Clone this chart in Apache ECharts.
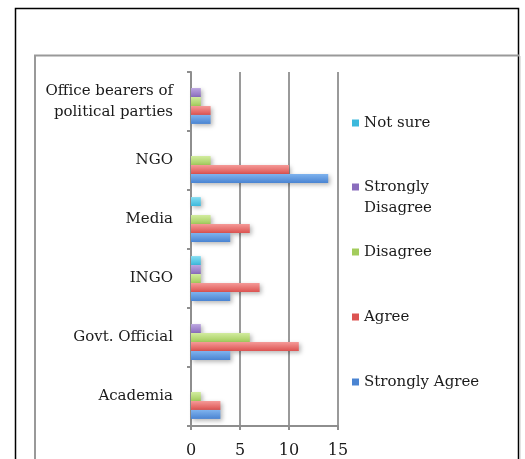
<!DOCTYPE html>
<html>
<head>
<meta charset="utf-8">
<script src="https://cdn.jsdelivr.net/npm/echarts@6/dist/echarts.min.js"></script>
<style>
  html, body { margin: 0; padding: 0; background: #fff; }
  #chart { width: 525px; height: 459px; }
</style>
</head>
<body>
<div id="chart"></div>
<script>
var categories = ['Academia', 'Govt. Official', 'INGO', 'Media', 'NGO', 'Office bearers of\npolitical parties'];
var stronglyAgree    = [3, 4, 4, 4, 14, 2];
var agree            = [3, 11, 7, 6, 10, 2];
var disagree         = [1, 6, 1, 2, 2, 1];
var stronglyDisagree = [0, 1, 1, 0, 0, 1];
var notSure          = [0, 0, 1, 1, 0, 0];
var xTicks = [0, 5, 10, 15];

var chart = echarts.init(document.getElementById('chart'));
var serif = 'DejaVu Serif';

// light / dark pair for the glossy bar look
var palette = {
    'Strongly Agree':    ['#7fb3ee', '#4a84d2'],
    'Agree':             ['#f59a98', '#dc5351'],
    'Disagree':          ['#d2ec9f', '#a3cc5c'],
    'Strongly Disagree': ['#bca6e0', '#8a6dbd'],
    'Not sure':          ['#86def2', '#3cb9dc']
};

var makeSeries = function (name, values) {
    var c = palette[name];
    return {
        name: name,
        type: 'bar',
        data: values,
        barGap: '0%',
        barCategoryGap: '24%',
        itemStyle: {
            color: new echarts.graphic.LinearGradient(0, 0, 0, 1, [
                {offset: 0, color: c[0]},
                {offset: 1, color: c[1]}
            ]),
            shadowColor: 'rgba(0,0,0,0.28)',
            shadowBlur: 4,
            shadowOffsetX: 2,
            shadowOffsetY: 2
        },
        emphasis: {disabled: true}
    };
};

var legendItem = function (name, top, formatter) {
    var l = {
        data: [{name: name, icon: 'rect', itemStyle: {color: palette[name][1]}}],
        orient: 'vertical',
        left: 352,
        top: top,
        padding: 0,
        itemWidth: 7,
        itemHeight: 7,
        selectedMode: false,
        textStyle: {fontFamily: serif, fontSize: 15, color: '#1a1a1a', lineHeight: 21}
    };
    if (formatter) l.formatter = formatter;
    return l;
};

var option = {
    backgroundColor: '#fff',
    animation: false,
    graphic: [
        {type: 'rect', z: -10, silent: true,
         shape: {x: 15.5, y: 8.5, width: 503, height: 520},
         style: {fill: '#fff', stroke: '#000', lineWidth: 1.5}},
        {type: 'polyline', z: -9, silent: true,
         shape: {points: [[35, 480], [35, 55.5], [519, 55.5]]},
         style: {fill: null, stroke: '#999', lineWidth: 2}},
        {type: 'line', z: -9, silent: true,
         shape: {x1: 520.5, y1: 56, x2: 520.5, y2: 470},
         style: {stroke: '#e2e2e2', lineWidth: 1}}
    ],
    legend: [
        legendItem('Not sure', 112.5),
        // blank first line keeps "Strongly" level with the icon
        legendItem('Strongly Disagree', 155.5, '\u00a0\nStrongly\nDisagree'),
        legendItem('Disagree', 241.5),
        legendItem('Agree', 306.5),
        legendItem('Strongly Agree', 371.5)
    ],
    grid: {left: 191, top: 72, width: 147, height: 355},
    xAxis: {
        type: 'value',
        min: xTicks[0],
        max: xTicks[xTicks.length - 1],
        interval: xTicks[1] - xTicks[0],
        axisLine: {show: true, lineStyle: {color: '#8e8e8e', width: 2}},
        axisTick: {show: true, length: 4, lineStyle: {color: '#8e8e8e', width: 2}},
        splitLine: {show: true, lineStyle: {color: '#9a9a9a', width: 2}},
        axisLabel: {fontFamily: serif, fontSize: 16, color: '#1a1a1a', margin: 17}
    },
    yAxis: {
        type: 'category',
        data: categories,
        axisLine: {show: true, lineStyle: {color: '#8e8e8e', width: 2}},
        axisTick: {show: true, length: 4, lineStyle: {color: '#8e8e8e', width: 2}},
        axisLabel: {fontFamily: serif, fontSize: 15, color: '#1a1a1a', margin: 18,
                    lineHeight: 21, align: 'right'}
    },
    // first series is drawn at the top of each band
    series: [
        makeSeries('Not sure', notSure),
        makeSeries('Strongly Disagree', stronglyDisagree),
        makeSeries('Disagree', disagree),
        makeSeries('Agree', agree),
        makeSeries('Strongly Agree', stronglyAgree)
    ]
};

chart.setOption(option);
window.onresize = function () { chart.resize(); };
</script>
</body>
</html>
